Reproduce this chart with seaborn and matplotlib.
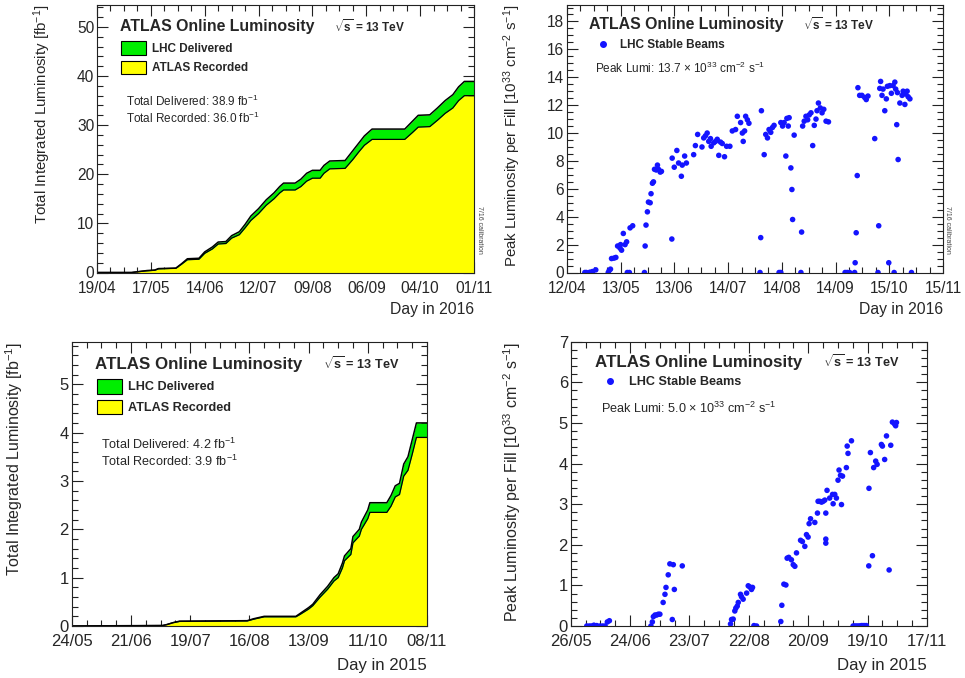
import numpy as np
import pandas as pd
import matplotlib
matplotlib.use("Agg")
import matplotlib.pyplot as plt
import seaborn as sns
from matplotlib.patches import Patch
from matplotlib.lines import Line2D
from matplotlib.ticker import MultipleLocator, FixedLocator, AutoMinorLocator

# ---------------- data ----------------
# 2016 integrated luminosity (days since 19/04/2016)
int16_days = [0, 18, 22, 26, 30, 32, 41, 44, 47, 53, 56, 60, 63, 67, 70, 74, 77, 80, 84, 88,
              92, 95, 97, 103, 106, 109, 112, 116, 118, 121, 129, 133, 136, 139, 143, 160,
              164, 167, 173, 177, 181, 185, 188, 191, 196]
int16_delivered = [0, 0, 0.2, 0.4, 0.5, 0.8, 0.9, 1.8, 2.8, 2.9, 4.2, 5.2, 6.2, 6.3, 7.5, 8.3,
                   9.8, 11.5, 13.0, 14.8, 16.2, 17.5, 18.2, 18.2, 19.0, 20.2, 20.8, 20.8, 21.8,
                   22.7, 22.8, 24.8, 26.3, 27.8, 29.2, 29.2, 30.8, 32.0, 32.1, 33.5, 35.0, 36.2,
                   37.8, 38.9, 38.9]
int16_recorded = [0, 0, 0.2, 0.35, 0.45, 0.75, 0.85, 1.7, 2.6, 2.7, 3.9, 4.8, 5.8, 5.9, 7.0,
                  7.7, 9.1, 10.6, 12.0, 13.7, 15.0, 16.2, 16.8, 16.8, 17.5, 18.6, 19.2, 19.2,
                  20.2, 21.1, 21.2, 23.0, 24.5, 25.9, 27.1, 27.1, 28.5, 29.6, 29.7, 31.0, 32.4,
                  33.5, 35.0, 36.0, 36.0]
int16_ticklabels = ["19/04", "17/05", "14/06", "12/07", "09/08", "06/09", "04/10", "01/11"]

# 2016 peak luminosity per fill (days since 12/04/2016)
peak16_days = [10.3, 11.2, 13.2, 14.7, 16.6, 23.8, 24.4, 25.1, 25.7, 27.1, 28.2, 29.2, 30.6,
               31.5, 30.9, 32.5, 33.5, 34.4, 34.8, 36.0, 36.4, 37.9, 44.7, 45.1, 45.6, 46.4,
               47.0, 48.0, 48.5, 49.3, 49.9, 50.5, 51.5, 52.2, 52.8, 53.8, 54.5, 60.5, 60.7,
               61.9, 63.4, 64.4, 66.0, 66.5, 67.9, 68.9, 73.1, 74.1, 75.4, 77.9, 78.9, 79.9,
               80.9, 81.8, 82.8, 83.2, 84.7, 85.7, 86.7, 87.6, 88.6, 89.6, 90.9, 92.1, 94.0,
               95.4, 97.3, 98.3, 100.2, 101.2, 101.7, 102.5, 103.1, 104.1, 105.0, 111.4, 111.8,
               112.2, 113.8, 114.7, 115.7, 116.6, 117.6, 118.6, 119.5, 122.4, 123.4, 123.4,
               124.4, 125.3, 126.3, 126.9, 127.7, 128.2, 129.2, 129.8, 130.2, 131.1, 135.0,
               135.4, 136.0, 136.9, 137.9, 138.9, 139.8, 140.8, 141.8, 142.7, 143.7, 144.3,
               145.1, 146.2, 147.2, 148.2, 149.5, 150.9, 160.5, 161.7, 163.1, 166.0, 166.3,
               166.9, 167.5, 167.9, 168.9, 170.2, 171.8, 172.7, 173.7, 177.6, 179.5, 179.9,
               180.5, 181.0, 181.8, 182.4, 183.4, 184.3, 184.9, 185.7, 186.3, 187.2, 188.2,
               188.8, 189.2, 189.7, 190.3, 190.7, 191.1, 192.1, 193.4, 194.0, 195.0, 195.4,
               196.3, 196.9, 197.9, 198.8]
peak16_values = [0, 0, 0.02, 0.07, 0.19, 0, 0.15, 0.24, 1.0, 1.03, 1.08, 1.9, 1.75, 1.6, 2.0,
                 2.8, 2.0, 2.2, 0, 0, 3.2, 3.35, 0, 1.9, 3.4, 4.35, 5.05, 5.0, 5.65, 6.4, 6.5,
                 7.4, 7.35, 7.7, 7.4, 7.2, 7.25, 2.4, 8.2, 7.55, 8.75, 7.85, 6.9, 7.7, 8.35,
                 7.85, 8.45, 9.1, 9.9, 9.0, 9.65, 9.8, 10.0, 9.4, 9.6, 9.05, 9.3, 9.4, 9.55,
                 8.4, 9.35, 9.25, 8.3, 9.05, 9.05, 10.15, 10.25, 11.2, 10.75, 10.0, 9.4, 10.15,
                 11.2, 10.95, 10.7, 0, 2.5, 11.6, 8.45, 9.9, 9.65, 10.25, 10.05, 10.4, 10.55,
                 0, 0, 10.75, 10.5, 10.75, 8.35, 11.05, 10.5, 11.1, 7.5, 5.95, 3.8, 9.85, 0,
                 2.9, 10.5, 10.85, 11.2, 10.95, 11.3, 11.45, 9.1, 10.55, 11.0, 11.6, 12.15,
                 11.8, 11.45, 11.7, 10.85, 10.8, 0, 0, 0, 0, 0.7, 2.85, 6.95, 13.25, 12.7,
                 12.7, 12.55, 12.4, 12.65, 9.6, 0, 3.35, 13.2, 13.7, 12.7, 13.15, 11.6, 12.45,
                 13.35, 0.7, 13.4, 12.85, 13.4, 0, 13.65, 13.15, 10.6, 12.9, 8.1, 12.15, 12.7,
                 13.0, 12.05, 12.8, 13.0, 12.6, 12.45, 0]
peak16_ticklabels = ["12/04", "13/05", "13/06", "14/07", "14/08", "14/09", "15/10", "15/11"]

# 2015 integrated luminosity (days since 24/05/2015)
int15_days = [0, 18, 43, 45, 48, 51, 83, 86, 91, 106, 108, 112, 114, 117.5, 121, 124, 126,
              128, 129, 132, 133, 136, 137, 140, 141, 149, 151, 153, 155, 157, 159, 161, 163, 168]
int15_delivered = [0, 0.005, 0.01, 0.03, 0.07, 0.10, 0.11, 0.15, 0.20, 0.20, 0.26, 0.38, 0.45,
                   0.65, 0.82, 1.0, 1.08, 1.3, 1.45, 1.6, 1.85, 2.0, 2.15, 2.4, 2.55, 2.55, 2.7,
                   2.9, 2.95, 3.35, 3.5, 3.85, 4.2, 4.2]
int15_recorded = [0, 0.005, 0.01, 0.03, 0.07, 0.095, 0.105, 0.14, 0.19, 0.19, 0.24, 0.35, 0.42,
                  0.6, 0.76, 0.93, 1.0, 1.2, 1.35, 1.48, 1.72, 1.86, 2.0, 2.22, 2.35, 2.35, 2.48,
                  2.67, 2.72, 3.1, 3.22, 3.55, 3.9, 3.9]
int15_ticklabels = ["24/05", "21/06", "19/07", "16/08", "13/09", "11/10", "08/11"]

# 2015 peak luminosity per fill (days since 26/05/2015)
peak15_days = [7.9, 9.2, 10.3, 11.4, 12.8, 14.4, 15.7, 16.9, 18.0, 19.0, 39.4, 40.1, 40.6, 41.4,
               42.2, 43.0, 43.8, 45.4, 46.3, 46.8, 47.9, 48.7, 49.9, 50.4, 50.9, 54.8, 78.5,
               79.0, 79.8, 80.6, 81.1, 81.8, 82.3, 83.4, 83.9, 84.7, 86.4, 87.2, 88.0, 88.8,
               89.3, 90.0, 91.3, 103.2, 103.7, 104.7, 105.7, 106.3, 107.1, 108.4, 109.3, 110.1,
               110.9, 112.9, 113.8, 115.0, 115.8, 116.6, 117.1, 117.8, 119.9, 121.2, 121.5,
               122.3, 123.2, 124.0, 124.8, 125.3, 125.3, 125.3, 125.9, 127.2, 128.6, 128.9,
               129.7, 130.5, 131.3, 131.8, 132.5, 133.0, 133.5, 135.4, 135.8, 136.2, 137.9,
               138.7, 139.5, 140.3, 141.2, 142.0, 142.8, 143.6, 144.4, 145.2, 146.4, 146.5,
               147.2, 148.2, 148.8, 149.8, 150.5, 152.6, 153.1, 154.2, 155.1, 156.4, 157.2,
               158.0, 159.1, 159.6, 160.0]
peak15_values = [0, 0, 0, 0.02, 0.01, 0, 0, 0, 0.1, 0.13, 0, 0.1, 0.23, 0.27, 0.27, 0.29, 0.29,
                 0.58, 0.78, 0.95, 1.26, 1.53, 0.16, 1.51, 0.9, 1.48, 0.05, 0.16, 0.17, 0.37,
                 0.44, 0.49, 0.58, 0.78, 0.72, 0.66, 0.81, 0.99, 0.96, 0.9, 0.95, 0.01, 0,
                 0.11, 0.51, 1.03, 1.01, 1.67, 1.69, 1.63, 1.51, 1.47, 1.8, 2.11, 2.08, 1.96,
                 2.25, 2.19, 2.52, 2.64, 2.55, 2.78, 3.07, 3.07, 3.05, 3.07, 3.1, 2.78, 2.14,
                 2.04, 3.34, 3.15, 3.24, 3.01, 3.24, 3.15, 3.59, 3.84, 3.71, 2.99, 3.69, 3.9,
                 4.43, 4.25, 4.56, 0, 0, 0, 0, 0, 0.01, 0.01, 0.01, 0.01, 1.48, 3.39, 4.27,
                 1.73, 3.9, 4.06, 3.98, 4.47, 4.43, 4.1, 4.68, 1.38, 4.45, 5.02, 4.97, 4.93, 5.01]
peak15_ticklabels = ["26/05", "24/06", "23/07", "22/08", "20/09", "19/10", "17/11"]

# ---------------- style ----------------
sns.set_style("ticks")
plt.rcParams["font.family"] = ["Liberation Sans", "DejaVu Sans"]
plt.rcParams["mathtext.fontset"] = "custom"
plt.rcParams["mathtext.rm"] = "Liberation Sans"
plt.rcParams["mathtext.it"] = "Liberation Sans:italic"
plt.rcParams["mathtext.bf"] = "Liberation Sans:bold"

GREEN = "#00ee00"
YELLOW = "#ffff00"
BLUE = "#1414ff"

W, H = 965, 678
fig = plt.figure(figsize=(W / 100, H / 100), dpi=100)
fig.patch.set_facecolor("white")


def px_axes(l, t, r, b):
    return fig.add_axes([l / W, 1 - b / H, (r - l) / W, (b - t) / H])


def ftext(x, y, s, **kw):
    kw.setdefault("va", "center")
    kw.setdefault("ha", "left")
    fig.text(x / W, 1 - y / H, s, **kw)


def style(ax, k, xmax, nmaj, xlabels, ymax, ymaj, ymin, xlabel, ylabel, ylab_x, xlab_y):
    ax.set_xlim(0, xmax)
    ax.set_ylim(0, ymax)
    ax.xaxis.set_major_locator(FixedLocator(np.linspace(0, xmax, nmaj)))
    ax.set_xticklabels(xlabels)
    ax.xaxis.set_minor_locator(AutoMinorLocator(4))
    ax.yaxis.set_major_locator(MultipleLocator(ymaj))
    ax.yaxis.set_minor_locator(MultipleLocator(ymin))
    ax.tick_params(which="both", direction="in", top=True, right=True, width=0.8,
                   color="#222222", labelsize=11.2 * k)
    ax.tick_params(which="major", length=8)
    ax.tick_params(which="minor", length=4)
    ax.tick_params(axis="x", which="both", pad=6)
    ax.tick_params(axis="y", which="both", pad=2)
    for sp in ax.spines.values():
        sp.set_linewidth(0.8)
        sp.set_color("#222222")
    ax.set_xlabel(xlabel, loc="right", fontsize=11.3 * k)
    ax.set_ylabel(ylabel, loc="top", fontsize=10.8 * k)
    ax.yaxis.set_label_coords(ylab_x, 1.0)
    ax.xaxis.set_label_coords(1.0, xlab_y)


def lumi_panel(ax, days, deliv, rec):
    ax.fill_between(days, 0, rec, color=YELLOW, lw=0)
    ax.fill_between(days, rec, deliv, color=GREEN, lw=0)
    sns.lineplot(x=days, y=deliv, ax=ax, color="black", lw=1.1, estimator=None, sort=False)
    sns.lineplot(x=days, y=rec, ax=ax, color="black", lw=0.9, estimator=None, sort=False)


def lumi_legend(ax, x, y, k):
    fs = 8.5 * k
    handles = [Patch(facecolor=GREEN, edgecolor="black", lw=0.8, label="LHC Delivered"),
               Patch(facecolor=YELLOW, edgecolor="black", lw=0.8, label="ATLAS Recorded")]
    ax.legend(handles=handles, loc="upper left", bbox_to_anchor=(x / W, 1 - y / H),
              bbox_transform=fig.transFigure, frameon=False,
              prop={"weight": "bold", "size": fs}, handlelength=2.15 / k, handleheight=1.4,
              labelspacing=0.5, handletextpad=0.45, borderpad=0, borderaxespad=0)


def peak_legend(ax, x, y, k):
    handles = [Line2D([], [], ls="", marker="o", color=BLUE, markersize=4, label="LHC Stable Beams")]
    ax.legend(handles=handles, loc="upper left", bbox_to_anchor=(x / W, 1 - y / H),
              bbox_transform=fig.transFigure, frameon=False,
              prop={"weight": "bold", "size": 8.5 * k}, handlelength=1.5,
              handletextpad=0.7, borderpad=0, borderaxespad=0)


YL_INT = r"Total Integrated Luminosity [fb$^{-1}$]"
YL_PEAK = r"Peak Luminosity per Fill [10$^{33}$ cm$^{-2}$ s$^{-1}$]"
SQRTS = r"$\sqrt{\mathbf{s}}$ = 13 TeV"
KT, KB = 1.0, 1.07
TITLE_T, TITLE_B = 11.4, 12.2

# ---------- top-left ----------
ax1 = px_axes(97, 5, 474, 272.5)
lumi_panel(ax1, int16_days, int16_delivered, int16_recorded)
style(ax1, KT, 196, 8, int16_ticklabels, 38.9 * 1.4, 10, 2, "Day in 2016", YL_INT, -0.117, -0.11)
lumi_legend(ax1, 121, 41, KT)
ftext(120, 27, "ATLAS Online Luminosity", fontsize=TITLE_T, weight="bold")
ftext(334, 27, SQRTS, fontsize=8.5 * KT, weight="bold")
ftext(126, 101, r"Total Delivered: 38.9 fb$^{-1}$", fontsize=8.5 * KT)
ftext(126, 118, r"Total Recorded: 36.0 fb$^{-1}$", fontsize=8.5 * KT)
ftext(480, 230, "7/16 calibration", fontsize=5, rotation=-90, ha="center", color="#444444")

# ---------- top-right ----------
ax2 = px_axes(567, 5, 943, 272.5)
sns.scatterplot(x=peak16_days, y=peak16_values, ax=ax2, color=BLUE, s=16, edgecolor="none",
                linewidth=0)
style(ax2, KT, 217, 8, peak16_ticklabels, 13.7 * 1.4, 2, 0.5, "Day in 2016", YL_PEAK, -0.117, -0.11)
peak_legend(ax2, 594, 39, KT)
ftext(589, 25, "ATLAS Online Luminosity", fontsize=TITLE_T, weight="bold")
ftext(803, 25, SQRTS, fontsize=8.5 * KT, weight="bold")
ftext(595, 68, r"Peak Lumi: 13.7 $\times$ 10$^{33}$ cm$^{-2}$ s$^{-1}$", fontsize=8.5 * KT)
ftext(948, 230, "7/16 calibration", fontsize=5, rotation=-90, ha="center", color="#444444")

# ---------- bottom-left ----------
ax3 = px_axes(71.7, 341.7, 427, 626)
lumi_panel(ax3, int15_days, int15_delivered, int15_recorded)
style(ax3, KB, 168, 7, int15_ticklabels, 4.2 * 1.4, 1, 0.2, "Day in 2015", YL_INT, -0.131, -0.113)
lumi_legend(ax3, 97, 379, KB)
ftext(95, 364, "ATLAS Online Luminosity", fontsize=TITLE_B, weight="bold")
ftext(323, 364, SQRTS, fontsize=8.5 * KB, weight="bold")
ftext(101, 444, r"Total Delivered: 4.2 fb$^{-1}$", fontsize=8.5 * KB)
ftext(101, 461, r"Total Recorded: 3.9 fb$^{-1}$", fontsize=8.5 * KB)

# ---------- bottom-right ----------
ax4 = px_axes(570.7, 341.7, 927, 626)
sns.scatterplot(x=peak15_days, y=peak15_values, ax=ax4, color=BLUE, s=16, edgecolor="none",
                linewidth=0)
style(ax4, KB, 175, 7, peak15_ticklabels, 7.0, 1, 0.2, "Day in 2015", YL_PEAK, -0.134, -0.113)
peak_legend(ax4, 601, 376, KB)
ftext(595, 362, "ATLAS Online Luminosity", fontsize=TITLE_B, weight="bold")
ftext(823, 362, SQRTS, fontsize=8.5 * KB, weight="bold")
ftext(601, 408, r"Peak Lumi: 5.0 $\times$ 10$^{33}$ cm$^{-2}$ s$^{-1}$", fontsize=8.5 * KB)

fig.savefig("out.png", dpi=100, facecolor="white")
